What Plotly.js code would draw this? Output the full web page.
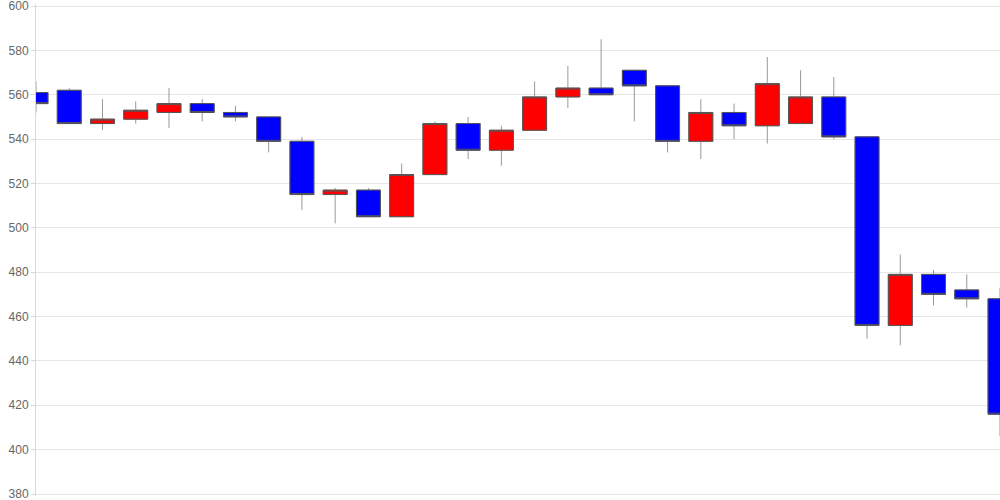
<!DOCTYPE html>
<html><head><meta charset="utf-8">
<script src="https://cdn.plot.ly/plotly-3.0.1.min.js"></script>
<style>html,body{margin:0;padding:0;background:#fff}#chart{width:1000px;height:500px}</style>
</head><body><div id="chart"></div>
<script>
const idx = [0,1,2,3,4,5,6,7,8,9,10,11,12,13,14,15,16,17,18,19,20,21,22,23,24,25,26,27,28,29];
const openV  = [561,562,547,549,552,556,552,550,539,515,517,505,524,547,535,544,559,563,571,564,539,552,546,547,559,541,456,479,472,468];
const highV  = [566,563,558,557,563,558,555,550,541,518,518,529,548,550,546,566,573,585,571,564,558,556,577,571,568,541,488,481,479,473];
const lowV   = [552,547,544,547,545,548,548,534,508,502,505,505,524,531,528,544,554,560,548,534,531,540,538,547,540,450,447,465,464,406];
const closeV = [556,547,549,553,556,552,550,539,515,517,505,524,547,535,544,559,563,560,564,539,552,546,565,559,541,456,479,470,468,416];
const yTicks = [380,400,420,440,460,480,500,520,540,560,580,600];

const bodyHigh = openV.map((o,i)=>Math.max(o,closeV[i]));
const bodyLow = openV.map((o,i)=>Math.min(o,closeV[i]));

const wicks = {
  type:'candlestick', x:idx, open:openV, high:highV, low:lowV, close:closeV,
  increasing:{line:{color:'#999999',width:1},fillcolor:'#ff0000'},
  decreasing:{line:{color:'#999999',width:1},fillcolor:'#0000ff'},
  whiskerwidth:0, hoverinfo:'skip', showlegend:false
};
const bodies = {
  type:'candlestick', x:idx, open:openV, high:bodyHigh, low:bodyLow, close:closeV,
  increasing:{line:{color:'#555555',width:1},fillcolor:'#ff0000'},
  decreasing:{line:{color:'#555555',width:1},fillcolor:'#0000ff'},
  whiskerwidth:0, hoverinfo:'skip', showlegend:false
};

const layout = {
  width:1000, height:500,
  margin:{l:36,r:0,t:4,b:4},
  paper_bgcolor:'#ffffff', plot_bgcolor:'#ffffff',
  boxmode:'overlay', boxgap:0.28, boxgroupgap:0,
  showlegend:false,
  xaxis:{type:'linear', range:[0,29], showgrid:false, zeroline:false, showticklabels:false,
         ticks:'', showline:false, rangeslider:{visible:false}, fixedrange:true},
  yaxis:{range:[379.1,600.9], tickvals:yTicks, ticktext:yTicks.map(String),
         showgrid:true, gridcolor:'#e6e6e6', gridwidth:1, zeroline:false,
         showline:true, linecolor:'#d9d9d9', linewidth:1,
         ticks:'outside', ticklen:4, tickcolor:'#d9d9d9',
         ticklabeloverflow:'allow',
         tickfont:{family:'Liberation Sans, Arial, sans-serif', size:12, color:'#666666'},
         fixedrange:true}
};
Plotly.newPlot('chart',[wicks,bodies],layout,{staticPlot:true,displayModeBar:false});
</script></body></html>
